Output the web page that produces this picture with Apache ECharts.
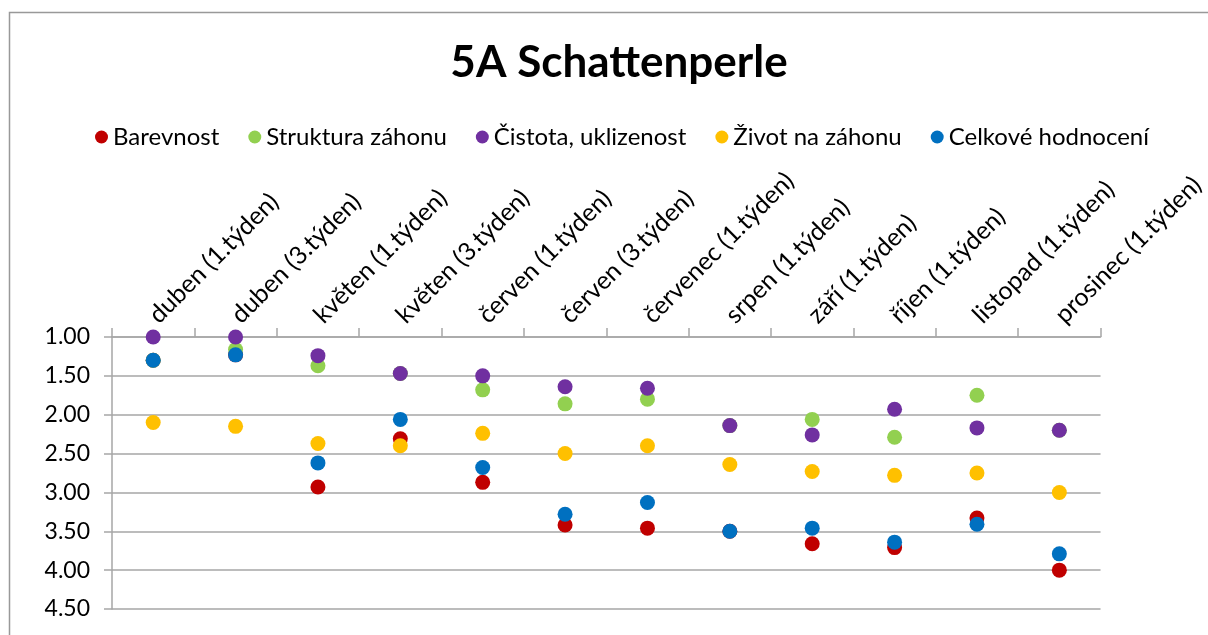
<!DOCTYPE html>
<html>
<head>
<meta charset="utf-8">
<script src="https://cdn.jsdelivr.net/npm/echarts@6/dist/echarts.min.js"></script>
<style>
  html, body { margin: 0; padding: 0; background: #fff; }
  #chartRef { width: 1208px; height: 635px; }
</style>
</head>
<body>
<div id="chartRef"></div>
<script>
// categories (top axis)
const categories = [
  'duben (1.týden)', 'duben (3.týden)', 'květen (1.týden)', 'květen (3.týden)',
  'červen (1.týden)', 'červen (3.týden)', 'červenec (1.týden)', 'srpen (1.týden)',
  'září (1.týden)', 'říjen (1.týden)', 'listopad (1.týden)', 'prosinec (1.týden)'
]

// series values
const barevnost = [1.30, 1.23, 2.93, 2.31, 2.87, 3.42, 3.46, 3.50, 3.66, 3.71, 3.33, 4.00]
const struktura = [1.30, 1.16, 1.37, 1.47, 1.68, 1.86, 1.80, 2.14, 2.06, 2.29, 1.75, 2.20]
const cistota = [1.00, 1.00, 1.24, 1.47, 1.50, 1.64, 1.66, 2.14, 2.26, 1.93, 2.17, 2.20]
const zivot = [2.10, 2.15, 2.37, 2.40, 2.24, 2.50, 2.40, 2.64, 2.73, 2.78, 2.75, 3.00]
const celkove = [1.30, 1.23, 2.62, 2.06, 2.68, 3.28, 3.13, 3.50, 3.46, 3.64, 3.41, 3.79]

const seriesNames = ['Barevnost', 'Struktura záhonu', 'Čistota, uklizenost', 'Život na záhonu', 'Celkové hodnocení']
const seriesData = [barevnost, struktura, cistota, zivot, celkove]
const colors = ['#C00000', '#92D050', '#7030A0', '#FFC000', '#0070C0']

const font = 'Lato, "Open Sans", sans-serif'

const myChart = echarts.init(document.getElementById('chartRef'))

const option = {
  animation: false,
  color: colors,
  textStyle: { fontFamily: font },
  title: {
    text: '5A Schattenperle',
    left: 614,
    top: 36,
    textAlign: 'center',
    textStyle: { fontSize: 44, fontWeight: 'bold', color: '#000', fontFamily: font }
  },
  legend: {
    top: 120,
    left: 90,
    icon: 'circle',
    itemWidth: 13,
    itemHeight: 13,
    itemGap: 29,
    textStyle: { fontSize: 24, color: '#000', fontFamily: font },
    data: seriesNames
  },
  graphic: [{
    type: 'rect',
    shape: { x: 9.5, y: 12.5, width: 1300, height: 700 },
    style: { fill: 'none', stroke: '#999', lineWidth: 1.5 },
    silent: true
  }],
  grid: { left: 112, right: 102, top: 337, bottom: 26 },
  xAxis: {
    type: 'category',
    position: 'top',
    data: categories,
    axisLine: { lineStyle: { color: '#A6A6A6', width: 1.5 } },
    axisTick: { show: true, length: 9, lineStyle: { color: '#A6A6A6', width: 1.5 } },
    axisLabel: { rotate: -45, fontSize: 25, color: '#000', margin: 18, fontFamily: font, interval: 0 },
    splitLine: { show: false }
  },
  yAxis: {
    type: 'value',
    inverse: true,
    min: 1,
    max: 4.5,
    interval: 0.5,
    axisLine: { show: true, lineStyle: { color: '#A6A6A6', width: 1.5 } },
    axisTick: { show: true, length: 8, lineStyle: { color: '#A6A6A6', width: 1.5 } },
    axisLabel: {
      fontSize: 23, color: '#000', margin: 22, fontFamily: font,
      formatter: (v) => v.toFixed(2)
    },
    splitLine: { lineStyle: { color: '#A6A6A6', width: 1.5 } }
  },
  series: seriesNames.map((name, i) => ({
    name: name,
    type: 'scatter',
    symbol: 'circle',
    symbolSize: 15,
    data: seriesData[i],
    itemStyle: { color: colors[i], opacity: 1 }
  }))
}

myChart.setOption(option)
</script>
</body>
</html>
